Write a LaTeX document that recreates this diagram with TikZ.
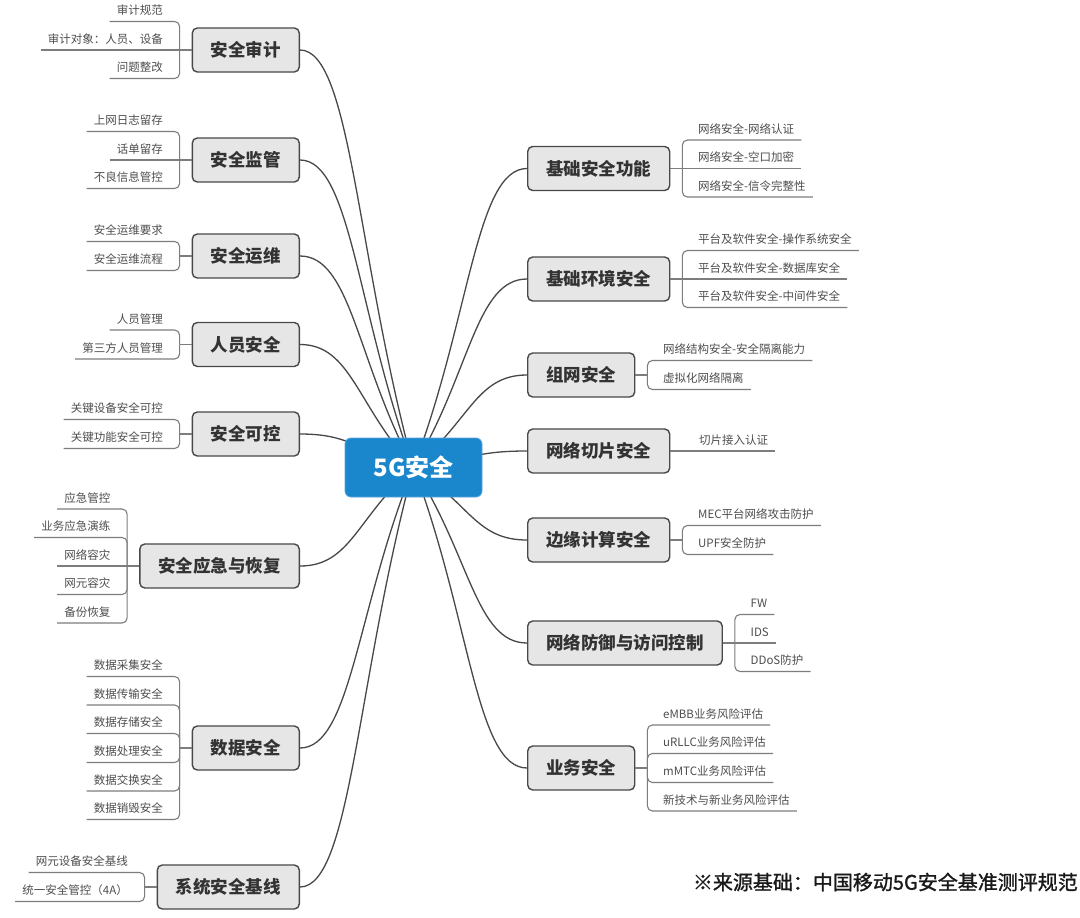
\documentclass[tikz,border=0pt]{standalone}
\usepackage{fontspec}
\setmainfont{Noto Sans CJK SC}
\newfontfamily\notefont[FakeBold=1.2]{Noto Sans CJK SC}
\usetikzlibrary{backgrounds,calc}

\definecolor{hubblue}{RGB}{26,134,203}
\definecolor{hubrim}{RGB}{90,165,220}
\definecolor{topicfill}{RGB}{230,230,230}
\definecolor{ink}{RGB}{72,72,72}
\definecolor{twiggray}{RGB}{125,125,125}
\definecolor{leaftext}{RGB}{78,78,78}

\tikzset{
  hubbox/.style={fill=hubblue, draw=hubrim, line width=0.8pt, rounded corners=6pt,
    minimum width=137pt, minimum height=59pt, inner sep=0pt,
    font=\fontsize{24}{28}\selectfont\bfseries, text=white},
  topic/.style={draw=ink, line width=1.4pt, fill=topicfill, rounded corners=5pt,
    inner xsep=18.5pt, inner ysep=0pt, minimum height=44pt,
    font=\fontsize{17.5}{20}\selectfont\bfseries, text=black!80},
  topicL/.style={topic, anchor=east},
  topicR/.style={topic, anchor=west},
  leafL/.style={anchor=south east, inner xsep=7pt, inner ysep=4pt,
    text height=9pt, text depth=2.5pt,
    font=\fontsize{11.5}{13}\selectfont, text=leaftext},
  leafR/.style={leafL, anchor=south west},
  twig/.style={draw=twiggray, line width=1.1pt, rounded corners=5pt},
  trunk/.style={draw=ink, line width=1.3pt},
}

% curved connector from the hub to a topic anchor, leaving toward the topic and arriving level
\newcommand\trunkline[1]{%
  \draw[trunk] let \p1=(hub.center), \p2=(#1) in
    (\p1) .. controls ({0.5*\x1+0.5*\x2},{0.5*\y1+0.5*\y2})
             and ({0.45*\x1+0.55*\x2},\y2) .. (\p2);}

\begin{document}
\begin{tikzpicture}[x=1pt,y=-1pt]
\useasboundingbox (0,0) rectangle (1080,918);

% hub
\node[hubbox] (hub) at (413.5,467.5) {5G安全};

% left topics
\node[topicL] (a) at (300,50)    {安全审计};
\node[topicL] (b) at (300,160)   {安全监管};
\node[topicL] (c) at (300,256)   {安全运维};
\node[topicL] (d) at (300,344.5) {人员安全};
\node[topicL] (e) at (300,434)   {安全可控};
\node[topicL] (f) at (300,566)   {安全应急与恢复};
\node[topicL] (g) at (300,748)   {数据安全};
\node[topicL] (h) at (300,887)   {系统安全基线};

% right topics
\node[topicR] (r1) at (527,168.5) {基础安全功能};
\node[topicR] (r2) at (527,279)   {基础环境安全};
\node[topicR] (r3) at (527,375)   {组网安全};
\node[topicR] (r4) at (527,451)   {网络切片安全};
\node[topicR] (r5) at (527,540)   {边缘计算安全};
\node[topicR] (r6) at (527,643)   {网络防御与访问控制};
\node[topicR] (r7) at (527,768)   {业务安全};

% bracket spines
\foreach \t in {a,b,c,d,e,f,g,h}{\coordinate (s\t) at ([xshift=-12pt]\t.west);}
\foreach \t in {r1,r2,r3,r5,r6,r7}{\coordinate (s\t) at ([xshift=12pt]\t.east);}

% left leaves
\node[leafL] (a1) at (170,21.5) {审计规范};
\node[leafL] (a2) at (170,50)   {审计对象：人员、设备};
\node[leafL] (a3) at (170,78.5) {问题整改};

\node[leafL] (b1) at (170,131.5) {上网日志留存};
\node[leafL] (b2) at (170,160)   {话单留存};
\node[leafL] (b3) at (170,188.5) {不良信息管控};

\node[leafL] (c1) at (170,241.5) {安全运维要求};
\node[leafL] (c2) at (170,270.5) {安全运维流程};

\node[leafL] (d1) at (170,330) {人员管理};
\node[leafL] (d2) at (170,359) {第三方人员管理};

\node[leafL] (e1) at (170,419.5) {关键设备安全可控};
\node[leafL] (e2) at (170,448.5) {关键功能安全可控};

\node[leafL] (f1) at (117.5,509)   {应急管控};
\node[leafL] (f2) at (117.5,537.5) {业务应急演练};
\node[leafL] (f3) at (117.5,566)   {网络容灾};
\node[leafL] (f4) at (117.5,594.5) {网元容灾};
\node[leafL] (f5) at (117.5,623)   {备份恢复};

\node[leafL] (g1) at (170,676.5) {数据采集安全};
\node[leafL] (g2) at (170,705)   {数据传输安全};
\node[leafL] (g3) at (170,733.5) {数据存储安全};
\node[leafL] (g4) at (170,762.5) {数据处理安全};
\node[leafL] (g5) at (170,791)   {数据交换安全};
\node[leafL] (g6) at (170,819.5) {数据销毁安全};

\node[leafL] (h1) at (135,872.5) {网元设备安全基线};
\node[leafL] (h2) at (135,901.5) {统一安全管控（4A）};

% right leaves
\node[leafR] (r1a) at (691,140)   {网络安全-网络认证};
\node[leafR] (r1b) at (691,168.5) {网络安全-空口加密};
\node[leafR] (r1c) at (691,197)   {网络安全-信令完整性};

\node[leafR] (r2a) at (691,250.5) {平台及软件安全-操作系统安全};
\node[leafR] (r2b) at (691,279)   {平台及软件安全-数据库安全};
\node[leafR] (r2c) at (691,307.5) {平台及软件安全-中间件安全};

\node[leafR] (r3a) at (656,360.5) {网络结构安全-安全隔离能力};
\node[leafR] (r3b) at (656,389.5) {虚拟化网络隔离};

\node[leafR] (r4a) at (692,451) {切片接入认证};

\node[leafR] (r5a) at (691,525.5) {MEC平台网络攻击防护};
\node[leafR] (r5b) at (691,554.5) {UPF安全防护};

\node[leafR] (r6a) at (743.5,614.5) {FW};
\node[leafR] (r6b) at (743.5,643)   {IDS};
\node[leafR] (r6c) at (743.5,671.5) {DDoS防护};

\node[leafR] (r7a) at (656,725)   {eMBB业务风险评估};
\node[leafR] (r7b) at (656,753.5) {uRLLC业务风险评估};
\node[leafR] (r7c) at (656,782.5) {mMTC业务风险评估};
\node[leafR] (r7d) at (656,811)   {新技术与新业务风险评估};

% source note
\node[anchor=east, inner sep=0pt, font=\notefont\fontsize{20}{23}\selectfont, text=black!90]
  (src) at (1078,882) {※来源基础：中国移动5G安全基准测评规范};

% left brackets: off-centre leaves bend into the spine, spine stub meets the topic
\foreach \t/\list in {a/{a1,a3}, b/{b1,b3}, c/{c1,c2}, d/{d1,d2}, e/{e1,e2},
                      f/{f1,f2,f4,f5}, g/{g1,g2,g3,g4,g5,g6}, h/{h1,h2}}{
  \foreach \l in \list {\draw[twig] (\l.south west) -| (s\t);}
  \draw[twig] (s\t) -- (\t.west);
}
% centred leaves run straight into their topic
\draw[twig] (a2.south west) -- (a.west);
\draw[twig] (b2.south west) -- (b.west);
\draw[twig] (f3.south west) -- (f.west);

% right brackets
\foreach \t/\list in {r1/{r1a,r1c}, r2/{r2a,r2c}, r3/{r3a,r3b}, r5/{r5a,r5b},
                      r6/{r6a,r6c}, r7/{r7a,r7b,r7c,r7d}}{
  \foreach \l in \list {\draw[twig] (\l.south east) -| (s\t);}
  \draw[twig] (s\t) -- (\t.east);
}
\draw[twig] (r1b.south east) -- (r1.east);
\draw[twig] (r2b.south east) -- (r2.east);
\draw[twig] (r6b.south east) -- (r6.east);
\draw[twig] (r4a.south east) -- (r4.east);

% trunk curves behind the hub
\begin{scope}[on background layer]
  \fill[white] (0,0) rectangle (1080,918);
  \foreach \t in {a,b,c,d,e,f,g,h}{\trunkline{\t.east}}
  \foreach \t in {r1,r2,r3,r4,r5,r6,r7}{\trunkline{\t.west}}
\end{scope}
\end{tikzpicture}
\end{document}
